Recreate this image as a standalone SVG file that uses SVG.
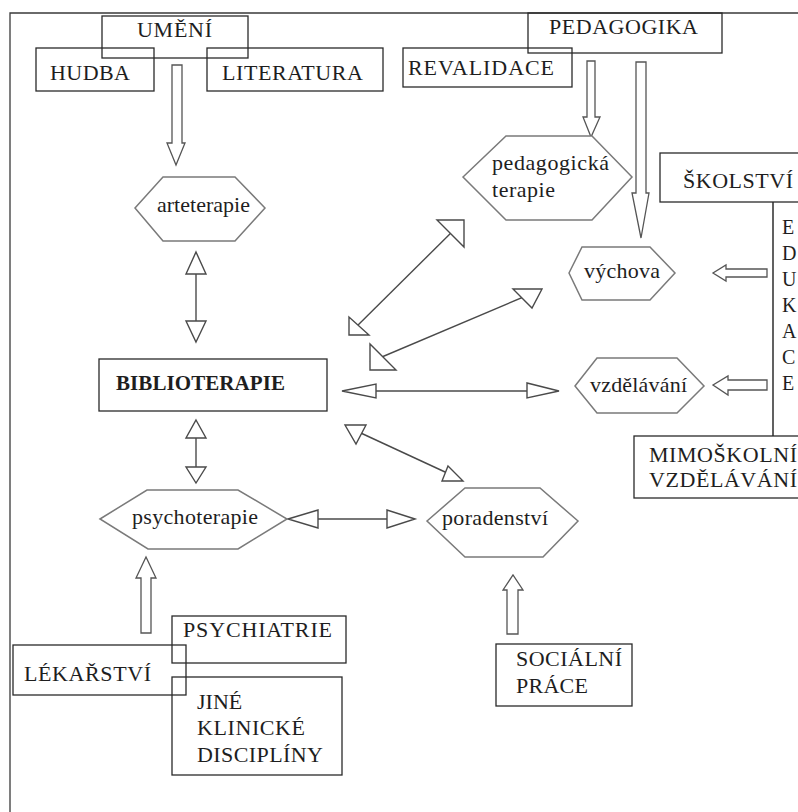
<svg xmlns="http://www.w3.org/2000/svg" width="798" height="812" viewBox="0 0 798 812">
<style>
  text { font-family: 'Liberation Serif', 'DejaVu Serif', 'Times New Roman', serif; font-size: 22px; fill: #1e1e1e; }
  .box { fill: none; stroke: #2a2a2a; stroke-width: 1.3; }
  .hex { fill: #ffffff; stroke: #7a7a7a; stroke-width: 1.5; }
  .frame { fill: none; stroke: #3a3a3a; stroke-width: 1.3; }
  .line { fill: none; stroke: #4a4a4a; stroke-width: 1.4; }
  .head { fill: #ffffff; stroke: #4a4a4a; stroke-width: 1.4; stroke-linejoin: miter; }
  .block { fill: #ffffff; stroke: #555555; stroke-width: 1.3; }
  .bold { font-weight: bold; font-size: 21px; }
  .edu { font-size: 20px; }
</style>
<rect x="0" y="0" width="798" height="812" fill="#ffffff"/>
<path class="frame" d="M798,13 H10 V812"/>

<g id="connectors">
  <polygon class="block" points="172,65 182,65 182,143 185,143 176,165 167,143 172,143"/>
  <polygon class="block" points="587,61 595,61 595,117 600,117 591,137 583,117 587,117"/>
  <polygon class="block" points="636,62 646,62 646,193 649,193 641,238 632,193 636,193"/>
  <polygon class="block" points="767,269 726,269 726,265 713,273 726,281 726,277 767,277"/>
  <polygon class="block" points="767,380 728,380 728,376 713,385 728,395 728,390 767,390"/>
  <polygon class="block" points="141,633 151,633 151,578 156,578 146,557 136,578 141,578"/>
  <polygon class="block" points="507,634 518,634 518,590 523,590 513,575 503,590 507,590"/>
  <line class="line" x1="773" y1="202" x2="773" y2="436" style="stroke:#1e1e1e"/>
  <line class="line" x1="196" y1="274" x2="196" y2="321"/>
  <polygon class="head" points="196,252 206,274 186,274"/>
  <polygon class="head" points="196,342 206,321 186,321"/>
  <line class="line" x1="196" y1="438" x2="196" y2="467"/>
  <polygon class="head" points="196,420 206,438 186,438"/>
  <polygon class="head" points="196,483 206,467 186,467"/>
  <line class="line" x1="350" y1="333" x2="463" y2="221"/>
  <polygon class="head" points="464,220 437,220 464,247"/>
  <polygon class="head" points="349,335 349,317 369,335"/>
  <line class="line" x1="370" y1="362" x2="540" y2="290"/>
  <polygon class="head" points="542,289 513,289 532,308"/>
  <polygon class="head" points="370,370 370,344 396,370"/>
  <line class="line" x1="376" y1="391" x2="527" y2="391"/>
  <polygon class="head" points="342,391 376,384 376,398"/>
  <polygon class="head" points="559,391 527,383 527,398"/>
  <line class="line" x1="350" y1="428" x2="458" y2="478"/>
  <polygon class="head" points="345,425 366,425 356,444"/>
  <polygon class="head" points="463,481 442,481 448,466"/>
  <line class="line" x1="318" y1="519" x2="387" y2="519"/>
  <polygon class="head" points="288,519 318,510 318,528"/>
  <polygon class="head" points="415,519 387,510 387,528"/>
</g>

<g id="umeni"><rect class="box" x="102" y="16" width="146" height="42"/><text x="137" y="37" textLength="75">UMĚNÍ</text></g>
<g id="hudba"><rect class="box" x="36" y="48" width="118" height="43"/><text x="50" y="80" textLength="80">HUDBA</text></g>
<g id="literatura"><rect class="box" x="207" y="48" width="176" height="43"/><text x="222" y="80" textLength="141">LITERATURA</text></g>
<g id="pedagogika"><rect class="box" x="528" y="13" width="194" height="40"/><text x="549" y="34" textLength="149">PEDAGOGIKA</text></g>
<g id="revalidace"><rect class="box" x="403" y="48" width="169" height="39"/><text x="408" y="75" textLength="146">REVALIDACE</text></g>
<g id="skolstvi"><rect class="box" x="660" y="153" width="150" height="49"/><text x="683" y="188" textLength="110">ŠKOLSTVÍ</text></g>
<g id="edukace">
  <text class="edu" x="782" y="234">E</text>
  <text class="edu" x="782" y="260">D</text>
  <text class="edu" x="782" y="286">U</text>
  <text class="edu" x="782" y="312">K</text>
  <text class="edu" x="782" y="338">A</text>
  <text class="edu" x="782" y="364">C</text>
  <text class="edu" x="782" y="390">E</text>
</g>
<g id="mimoskolni"><rect class="box" x="634" y="436" width="180" height="62"/><text x="649" y="462" textLength="148">MIMOŠKOLNÍ</text><text x="649" y="487" textLength="148">VZDĚLÁVÁNÍ</text></g>

<g id="arteterapie"><polygon class="hex" points="135,208 163,177 235,177 265,208 235,241 163,241"/><text x="157" y="212" textLength="93">arteterapie</text></g>
<g id="pedagogicka-terapie"><polygon class="hex" points="463,177 506,136 592,136 632,177 592,220 506,220"/><text x="492" y="170" textLength="117">pedagogická</text><text x="492" y="197" textLength="63">terapie</text></g>
<g id="vychova"><polygon class="hex" points="569,273 582,247 650,247 675,273 650,300 582,300"/><text x="584" y="278" textLength="76">výchova</text></g>
<g id="vzdelavani"><polygon class="hex" points="575,386 597,358 677,358 704,386 677,413 597,413"/><text x="590" y="392" textLength="97">vzdělávání</text></g>
<g id="bibloterapie"><rect class="box" x="99" y="359" width="228" height="52"/><text class="bold" x="116" y="390" textLength="169">BIBLIOTERAPIE</text></g>
<g id="psychoterapie"><polygon class="hex" points="100,519 147,490 238,490 287,519 238,549 148,549"/><text x="132" y="524" textLength="126">psychoterapie</text></g>
<g id="poradenstvi"><polygon class="hex" points="427,521 465,488 540,488 578,521 543,557 465,557"/><text x="442" y="525" textLength="106">poradenství</text></g>

<g id="psychiatrie"><rect class="box" x="172" y="616" width="174" height="47"/><text x="183" y="637" textLength="149">PSYCHIATRIE</text></g>
<g id="lekarstvi"><rect class="box" x="13" y="645" width="173" height="50"/><text x="24" y="681" textLength="127">LÉKAŘSTVÍ</text></g>
<g id="jine"><rect class="box" x="172" y="677" width="170" height="98"/><text x="197" y="709">JINÉ</text><text x="197" y="735" textLength="108">KLINICKÉ</text><text x="197" y="762" textLength="126">DISCIPLÍNY</text></g>
<g id="socialni"><rect class="box" x="496" y="644" width="136" height="62"/><text x="516" y="666" textLength="106">SOCIÁLNÍ</text><text x="516" y="693" textLength="72">PRÁCE</text></g>
</svg>
